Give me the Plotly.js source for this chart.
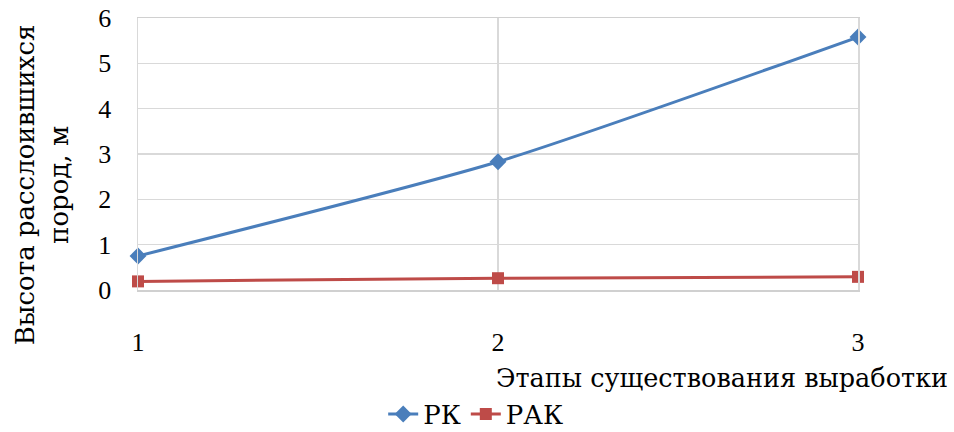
<!DOCTYPE html>
<html>
<head>
<meta charset="utf-8">
<script src="https://cdn.plot.ly/plotly-3.0.1.min.js"></script>
<style>html,body{margin:0;padding:0;background:#fff;}#chart{width:954px;height:432px;}</style>
</head>
<body>
<div id="chart"></div>
<script>
var stages = [1, 2, 3];
var rkValues = [0.75, 2.83, 5.58];
var rakValues = [0.19, 0.26, 0.29];
var seriesNames = ['РК', 'РАК'];
var yTicks = [0, 1, 2, 3, 4, 5, 6];
var xTitle = 'Этапы существования выработки';
var yTitle = 'Высота расслоившихся<br>пород, м';

var NUMFONT = 'Liberation Serif, serif';
var TXTFONT = 'DejaVu Serif';

var traces = [
  {
    x: stages, y: rkValues, name: seriesNames[0], type: 'scatter', mode: 'lines+markers',
    line: {color: '#4A7EBB', width: 3, shape: 'spline', smoothing: 0.6},
    marker: {symbol: 'diamond', size: 13, color: '#4A7EBB'},
    cliponaxis: false
  },
  {
    x: stages, y: rakValues, name: seriesNames[1], type: 'scatter', mode: 'lines+markers',
    line: {color: '#BE4B48', width: 3, shape: 'spline', smoothing: 0.6},
    marker: {symbol: 'square', size: 12, color: '#BE4B48'},
    cliponaxis: false
  }
];

var layout = {
  width: 954, height: 432,
  margin: {l: 138, r: 96, t: 18, b: 142, autoexpand: false},
  paper_bgcolor: '#fff', plot_bgcolor: '#fff',
  font: {family: NUMFONT, size: 25, color: '#000'},
  showlegend: true,
  legend: {orientation: 'h', x: 0.469, xanchor: 'center', y: -0.456, yanchor: 'middle',
           font: {family: TXTFONT, size: 26, color: '#000'}, traceorder: 'normal'},
  xaxis: {
    range: [1, 3], tickvals: stages, ticktext: stages.map(String),
    showgrid: true, gridcolor: '#d9d9d9', gridwidth: 1.5,
    zeroline: false, showline: true, mirror: true, linecolor: '#d0d0d0', linewidth: 1.5,
    ticks: 'outside', ticklen: 0, ticklabelstandoff: 28, automargin: false,
    tickfont: {family: NUMFONT, size: 26, color: '#000'}, fixedrange: true
  },
  yaxis: {
    range: [0, 6], tickvals: yTicks,
    showgrid: true, gridcolor: '#d9d9d9', gridwidth: 1.5,
    zeroline: false, showline: true, mirror: true, linecolor: '#d9d9d9', linewidth: 1.5,
    ticks: '', ticklabelstandoff: 20, automargin: false,
    tickfont: {family: NUMFONT, size: 26, color: '#000'}, fixedrange: true
  },
  annotations: [
    {text: xTitle, xref: 'paper', yref: 'paper', x: 1.128, y: -0.324, xanchor: 'right', yanchor: 'middle',
     showarrow: false, font: {family: TXTFONT, size: 25.5, color: '#000'}},
    {text: yTitle, xref: 'paper', yref: 'paper', x: -0.133, y: 0.386, xanchor: 'center', yanchor: 'middle',
     textangle: -90, showarrow: false, font: {family: TXTFONT, size: 26, color: '#000'}}
  ]
};

Plotly.newPlot('chart', traces, layout, {displayModeBar: false, staticPlot: true});
</script>
</body>
</html>
